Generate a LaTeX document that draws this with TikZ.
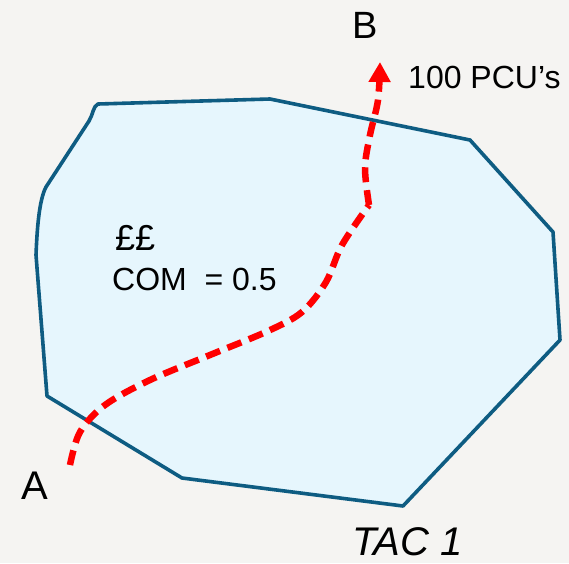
\documentclass[tikz,border=0pt]{standalone}
\usepackage{fontspec}
\setmainfont{Liberation Sans}
\usetikzlibrary{arrows.meta}
\definecolor{bgc}{RGB}{245,244,242}
\definecolor{zonefill}{RGB}{230,246,253}
\definecolor{zoneline}{RGB}{14,92,130}
\definecolor{routered}{RGB}{255,0,0}
\tikzset{
  zone/.style={draw=zoneline, fill=zonefill, line width=3.6pt, line join=round},
  route/.style={draw=routered, line width=6.5pt, dash pattern=on 15pt off 8pt,
    -{Triangle[length=20pt,width=21pt]}},
  lbl/.style={anchor=base west, inner sep=0pt, text=black},
}
\begin{document}
\begin{tikzpicture}[x=1pt,y=-1pt]
\fill[bgc] (0,0) rectangle (569,563);
\useasboundingbox (0,0) rectangle (569,563);
% zone polygon
\path[zone] (270,99) -- (98,104) .. controls (93,106) and (93,115) .. (89,121)
  -- (46,187) .. controls (39,200) and (37,230) .. (36,255)
  -- (47,396) -- (182,478) -- (403,506) -- (560,340) -- (553,232) -- (470,140) -- cycle;
% route
\coordinate (startA) at (70,465);
\coordinate (endB) at (380,60);
\draw[route] plot[smooth, tension=0.55] coordinates {(70,465) (80,432) (105,405) (150,380) (210,355) (268,331) (302,312) (326,282) (342,245) (369,205)}
  plot[smooth, tension=0.55] coordinates {(369,205) (365,168) (370,135) (378,100) (380,62)};
% labels
\node[lbl, font=\fontsize{38}{44}\selectfont] (B) at (352,38) {B};
\node[lbl, font=\fontsize{40}{46}\selectfont] (A) at (21,499) {A};
\node[lbl, font=\fontsize{32}{38}\selectfont] (pcu) at (408,88) {100 PCU’s};
\node[lbl, font=\fontsize{36}{42}\selectfont] (pounds) at (115,250) {££};
\node[lbl, font=\fontsize{32}{38}\selectfont] (com) at (112,290) {COM\ \ = 0.5};
\node[lbl, font=\fontsize{40}{46}\selectfont\itshape] (tac) at (352,555) {TAC 1};
\end{tikzpicture}
\end{document}
